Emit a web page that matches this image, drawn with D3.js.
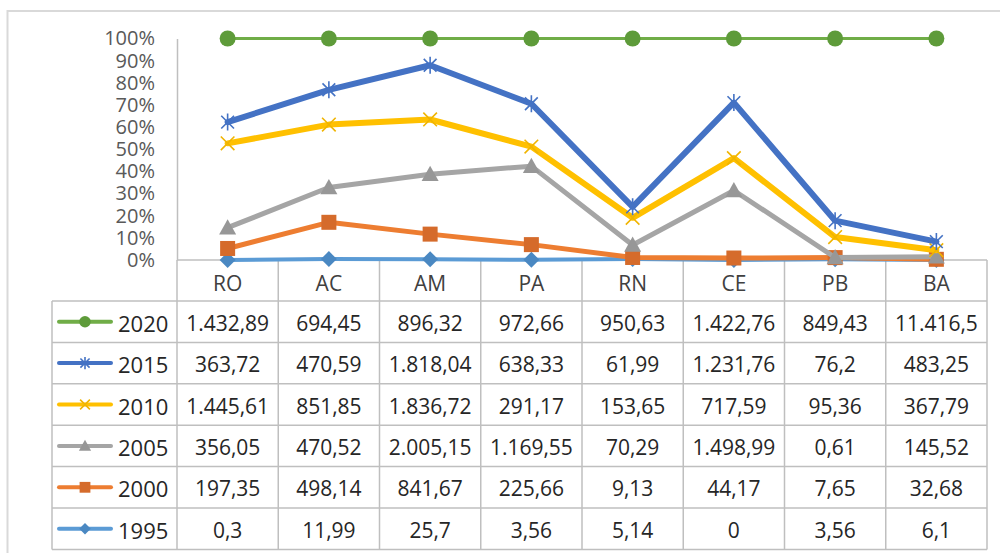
<!DOCTYPE html>
<html>
<head>
<meta charset="utf-8">
<script src="https://cdn.jsdelivr.net/npm/d3@7"></script>
<style>
  html, body { margin: 0; padding: 0; background: #fff; }
  svg { display: block; }
</style>
</head>
<body>
<svg id="chart" width="1000" height="553"></svg>
<script>
// ---------- data ----------
const categories = ["RO", "AC", "AM", "PA", "RN", "CE", "PB", "BA"];
const years = ["1995", "2000", "2005", "2010", "2015", "2020"];
const v1995 = [0.3, 11.99, 25.7, 3.56, 5.14, 0, 3.56, 6.1];
const v2000 = [197.35, 498.14, 841.67, 225.66, 9.13, 44.17, 7.65, 32.68];
const v2005 = [356.05, 470.52, 2005.15, 1169.55, 70.29, 1498.99, 0.61, 145.52];
const v2010 = [1445.61, 851.85, 1836.72, 291.17, 153.65, 717.59, 95.36, 367.79];
const v2015 = [363.72, 470.59, 1818.04, 638.33, 61.99, 1231.76, 76.2, 483.25];
const v2020 = [1432.89, 694.45, 896.32, 972.66, 950.63, 1422.76, 849.43, 11416.5];
const yTicks = [0, 0.1, 0.2, 0.3, 0.4, 0.5, 0.6, 0.7, 0.8, 0.9, 1.0];

const seriesValues = { "1995": v1995, "2000": v2000, "2005": v2005, "2010": v2010, "2015": v2015, "2020": v2020 };

// ---------- styles ----------
const style = {
  "1995": { line: "#5B9BD5", marker: "#4A88C2", width: 4,   shape: "diamond" },
  "2000": { line: "#ED7D31", marker: "#D56B2B", width: 5,   shape: "square" },
  "2005": { line: "#A5A5A5", marker: "#979797", width: 5,   shape: "triangle" },
  "2010": { line: "#FFC000", marker: "#F0B400", width: 6,   shape: "x" },
  "2015": { line: "#4472C4", marker: "#4472C4", width: 6,   shape: "star" },
  "2020": { line: "#70AD47", marker: "#5E9B3A", width: 3,   shape: "circle" }
};
const FONT = "'Open Sans', 'Noto Sans', sans-serif";
const gridColor = "#bfbfbf";

// ---------- layout ----------
const plotLeft = 177, plotRight = 987, plotTop = 38.5, plotBottom = 260;
const headerH = 41, rowH = 41.4, legendLeft = 52;

const svg = d3.select("#chart");

// outer frame
svg.append("rect")
  .attr("x", 7.5).attr("y", 11).attr("width", 1010).attr("height", 600)
  .attr("fill", "#fff").attr("stroke", "#d9d9d9").attr("stroke-width", 2);

const x = d3.scaleBand().domain(categories).range([plotLeft, plotRight]);
const y = d3.scaleLinear().domain([0, 1]).range([plotBottom, plotTop]);

// stacked 100% data
const rows = categories.map((c, i) => {
  const o = { cat: c };
  years.forEach(yr => o[yr] = seriesValues[yr][i]);
  return o;
});
const stacked = d3.stack().keys(years).offset(d3.stackOffsetExpand)(rows);

// ---------- table grid ----------
const tableRowsOrder = years.slice().reverse(); // 2020 on top
const tableTop = plotBottom + headerH;
const tableBottom = tableTop + rowH * tableRowsOrder.length;
const grid = svg.append("g").attr("stroke", gridColor).attr("stroke-width", 1.5).attr("fill", "none");

// horizontal lines
grid.append("line").attr("x1", plotLeft).attr("x2", plotRight).attr("y1", plotBottom).attr("y2", plotBottom);
for (let r = 0; r <= tableRowsOrder.length; r++) {
  const yy = tableTop + r * rowH;
  grid.append("line").attr("x1", legendLeft).attr("x2", plotRight).attr("y1", yy).attr("y2", yy);
}
// vertical lines
grid.append("line").attr("x1", legendLeft).attr("x2", legendLeft).attr("y1", tableTop).attr("y2", tableBottom);
categories.forEach((c, i) => {
  const xx = x(c) + x.bandwidth();
  grid.append("line").attr("x1", xx).attr("x2", xx).attr("y1", plotBottom).attr("y2", tableBottom);
});
grid.append("line").attr("x1", plotLeft).attr("x2", plotLeft).attr("y1", plotBottom).attr("y2", tableBottom);

// ---------- y axis ----------
const yAxis = svg.append("g")
  .attr("transform", `translate(${plotLeft},0)`)
  .call(d3.axisLeft(y).tickValues(yTicks).tickFormat(d3.format(".0%")).tickSize(0).tickSizeOuter(0).tickPadding(22));
yAxis.select(".domain").attr("stroke", gridColor).attr("stroke-width", 1.5);
yAxis.selectAll("text")
  .attr("font-family", FONT).attr("font-size", 20).attr("fill", "#595959");

// ---------- category header ----------
svg.append("g").selectAll("text").data(categories).join("text")
  .attr("x", d => x(d) + x.bandwidth() / 2)
  .attr("y", plotBottom + headerH / 2 + 2)
  .attr("text-anchor", "middle").attr("dominant-baseline", "central")
  .attr("font-family", FONT).attr("font-size", 21).attr("fill", "#404040")
  .text(d => d);

// ---------- markers ----------
function drawMarker(g, shape, color, s) {
  // s = half-size
  if (shape === "circle") {
    g.append("circle").attr("r", s).attr("fill", color);
  } else if (shape === "square") {
    g.append("rect").attr("x", -s).attr("y", -s).attr("width", 2 * s).attr("height", 2 * s).attr("fill", color);
  } else if (shape === "triangle") {
    g.append("path").attr("d", `M0,${-s}L${s},${s * 0.8}L${-s},${s * 0.8}Z`).attr("fill", color);
  } else if (shape === "diamond") {
    g.append("path").attr("d", `M0,${-s}L${s},0L0,${s}L${-s},0Z`).attr("fill", color);
  } else if (shape === "x") {
    const a = s * 0.8;
    g.append("path").attr("d", `M${-a},${-a}L${a},${a}M${-a},${a}L${a},${-a}`)
      .attr("stroke", color).attr("stroke-width", 1.6).attr("fill", "none");
  } else if (shape === "star") {
    const a = s * 0.75;
    g.append("path").attr("d", `M0,${-s}L0,${s}M${-a},${-a}L${a},${a}M${-a},${a}L${a},${-a}`)
      .attr("stroke", color).attr("stroke-width", 1.6).attr("fill", "none");
  }
}
const markerSize = { circle: 8, square: 7.5, triangle: 8.5, diamond: 8, x: 8.5, star: 8.5 };

// ---------- lines ----------
const line = d3.line().x(d => x(d.data.cat) + x.bandwidth() / 2).y(d => y(d[1]));
stacked.forEach(layer => {
  const st = style[layer.key];
  const g = svg.append("g");
  g.append("path").datum(layer).attr("d", line)
    .attr("fill", "none").attr("stroke", st.line).attr("stroke-width", st.width)
    .attr("stroke-linejoin", "round").attr("stroke-linecap", "round");
  layer.forEach(d => {
    const mg = g.append("g").attr("transform", `translate(${x(d.data.cat) + x.bandwidth() / 2},${y(d[1])})`);
    drawMarker(mg, st.shape, st.marker, markerSize[st.shape]);
  });
});

// ---------- table body ----------
const fmt = d3.formatLocale({ decimal: ",", thousands: ".", grouping: [3], currency: ["R$", ""] }).format(",.2~f");
tableRowsOrder.forEach((yr, r) => {
  const cy = tableTop + r * rowH + rowH / 2 + 1;
  const st = style[yr];
  // legend key
  svg.append("line").attr("x1", 59).attr("x2", 111).attr("y1", cy - 1).attr("y2", cy - 1)
    .attr("stroke", st.line).attr("stroke-width", 4).attr("stroke-linecap", "round");
  const lg = svg.append("g").attr("transform", `translate(85,${cy - 1})`);
  drawMarker(lg, st.shape, st.marker, markerSize[st.shape] * 0.72);
  svg.append("text").attr("x", 118).attr("y", cy)
    .attr("dominant-baseline", "central")
    .attr("font-family", FONT).attr("font-size", 22).attr("fill", "#262626")
    .text(yr);
  // values
  categories.forEach((c, i) => {
    svg.append("text")
      .attr("x", x(c) + x.bandwidth() / 2).attr("y", cy)
      .attr("text-anchor", "middle").attr("dominant-baseline", "central")
      .attr("font-family", FONT).attr("font-size", 21).attr("fill", "#262626")
      .text(fmt(seriesValues[yr][i]));
  });
});
</script>
</body>
</html>
